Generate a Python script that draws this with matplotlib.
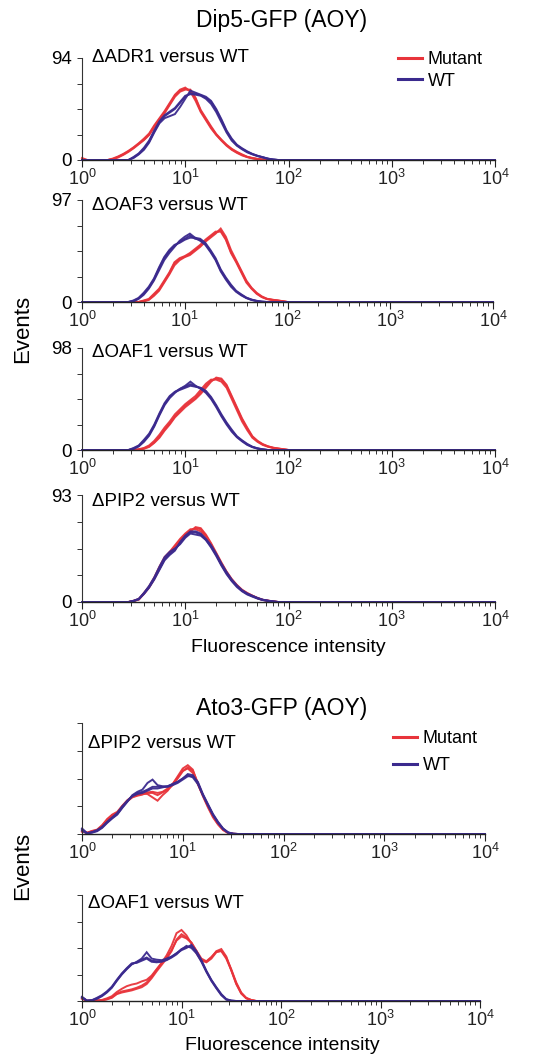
import numpy as np
import matplotlib
matplotlib.use("Agg")
import matplotlib.pyplot as plt
from matplotlib.lines import Line2D
from matplotlib.ticker import LogLocator, NullFormatter

plt.rcParams['font.family'] = ['Liberation Sans', 'DejaVu Sans']
plt.rcParams['mathtext.fontset'] = 'custom'
plt.rcParams['mathtext.rm'] = 'Liberation Sans'
plt.rcParams['mathtext.it'] = 'Liberation Sans:italic'
plt.rcParams['mathtext.bf'] = 'Liberation Sans:bold'

W, H = 539, 1058
MUT_COLOR = '#E8343B'
WT_COLOR = '#3B2A8E'

# ---------------- data: log10(fluorescence) bin centres ----------------
log_bins_dip5 = [0.00, 0.05, 0.10, 0.15, 0.20, 0.25, 0.30, 0.35, 0.40, 0.45,
                 0.50, 0.55, 0.60, 0.65, 0.70, 0.75, 0.80, 0.85, 0.90, 0.95,
                 1.00, 1.05, 1.10, 1.15, 1.20, 1.25, 1.30, 1.35, 1.40, 1.45,
                 1.50, 1.55, 1.60, 1.65, 1.70, 1.75, 1.80, 1.85, 1.90, 1.95, 2.00]
log_bins_ato3 = [0.00, 0.05, 0.10, 0.15, 0.20, 0.25, 0.30, 0.35, 0.40, 0.45,
                 0.50, 0.55, 0.60, 0.65, 0.70, 0.75, 0.80, 0.85, 0.90, 0.95,
                 1.00, 1.05, 1.10, 1.15, 1.20, 1.25, 1.30, 1.35, 1.40, 1.45,
                 1.50, 1.55, 1.60, 1.65, 1.70, 1.75]

# events, as % of each panel's axis maximum (three replicates each)
adr1_mut = [
    [2, 0, 0, 0, 0, 0, 1, 3, 5.5, 8.5, 12, 16, 20, 25, 33, 40, 47, 55, 63, 68, 70, 68, 60, 48, 40, 32, 25, 19.5, 14.5, 10.5, 7.5, 5, 3, 1.8, 1, 0.4, 0, 0, 0, 0, 0],
    [0, 0, 0, 0, 0, 0, 1.5, 3.5, 6, 9, 12.5, 16.5, 21, 26, 34, 41, 48, 56, 64, 69, 71, 67, 58, 47, 39, 31, 24.5, 19, 14, 10, 7, 4.5, 2.8, 1.6, 0.8, 0.3, 0, 0, 0, 0, 0],
    [1, 0, 0, 0, 0, 0, 0.8, 2.5, 5, 8, 11.5, 15.5, 19.5, 24.5, 32, 39, 46, 54, 62, 67, 69, 69, 61, 49, 41, 33, 25.5, 20, 15, 11, 8, 5.5, 3.2, 2, 1.1, 0.5, 0, 0, 0, 0, 0],
]
adr1_wt = [
    [0, 0, 0, 0, 0, 0, 0, 0, 0, 0, 2.5, 6, 11, 18, 28, 37, 43, 46.5, 50, 56, 62, 65.5, 65, 63.5, 61, 57, 49, 39, 28, 20, 14.5, 11, 8, 5.8, 4, 2.7, 1.3, 0.5, 0, 0, 0],
    [0, 0, 0, 0, 0, 0, 0, 0, 0, 0, 2, 5.5, 10, 17, 27, 36, 41, 43, 45, 52, 60, 68, 66, 64, 62, 58, 50, 40, 29, 21, 15, 11.5, 8.5, 6, 4.2, 2.8, 1.4, 0.5, 0, 0, 0],
    [0, 0, 0, 0, 0, 0, 0, 0, 0, 0, 3, 6.5, 12, 19, 29, 38, 44, 47.5, 51, 57, 63, 64.5, 64, 63, 60, 55, 47, 37, 27, 19, 14, 10.5, 7.5, 5.5, 3.8, 2.5, 1.2, 0.4, 0, 0, 0],
]
oaf3_mut = [
    [0, 0, 0, 0, 0, 0, 0, 0, 0, 0, 0, 0, 1, 2.5, 7, 12, 20, 28, 38, 42, 44.5, 47, 51, 55, 60, 64, 68, 70, 62, 49, 40, 30, 20, 13.5, 8.5, 5, 3, 2.2, 1.5, 0.8, 0],
    [0, 0, 0, 0, 0, 0, 0, 0, 0, 0, 0, 0, 0.5, 2, 6, 11, 19, 27, 36, 41, 44, 46, 50, 54, 59, 63, 67, 72, 64, 51, 41, 31, 21, 14, 9, 5.5, 3.2, 2.3, 1.6, 0.9, 0],
    [0, 0, 0, 0, 0, 0, 0, 0, 0, 0, 0, 0, 1.5, 3, 8, 13, 21, 29, 39, 43, 45, 48, 52, 56, 61, 65, 69, 69, 61, 48, 39, 29, 19, 13, 8, 4.8, 2.8, 2, 1.4, 0.7, 0],
]
oaf3_wt = [
    [0, 0, 0, 0, 0, 0, 0, 0, 0, 0, 1, 3.5, 8, 14, 22, 33, 43, 50, 55, 59, 62, 65, 62, 61, 57, 50, 42, 31, 23, 16, 10.5, 7, 4, 2.2, 1, 0.3, 0, 0, 0, 0, 0],
    [0, 0, 0, 0, 0, 0, 0, 0, 0, 0, 0.5, 3, 7, 13, 21, 31, 41, 48, 54, 60, 64, 67, 63, 60, 56, 49, 41, 30, 22, 15, 10, 6.5, 3.8, 2, 0.8, 0.2, 0, 0, 0, 0, 0],
    [0, 0, 0, 0, 0, 0, 0, 0, 0, 0, 1.5, 4, 9, 15, 23, 34, 44, 51, 56, 58, 61, 63, 63, 62, 58, 51, 43, 32, 24, 17, 11, 7.5, 4.3, 2.4, 1.2, 0.4, 0, 0, 0, 0, 0],
]
oaf1_dip5_mut = [
    [0, 0, 0, 0, 0, 0, 0, 0, 0, 0, 0, 0.5, 1.5, 3.5, 7.5, 13, 20, 26, 33, 38.5, 43.5, 47.5, 51, 57, 63, 68, 70, 69, 63, 52, 41, 30, 21, 13, 8.5, 5.5, 3.5, 2.2, 1.4, 0.7, 0],
    [0, 0, 0, 0, 0, 0, 0, 0, 0, 0, 0, 0.3, 1.2, 3, 7, 12, 19, 25, 32, 37, 42, 46, 50, 55, 61, 67, 71, 70, 64, 53, 42, 31, 22, 13.5, 9, 5.8, 3.7, 2.3, 1.5, 0.8, 0],
    [0, 0, 0, 0, 0, 0, 0, 0, 0, 0, 0, 0.8, 2, 4.5, 9, 15, 22, 28, 35, 40, 45, 49, 53, 59, 65, 69, 69, 67, 61, 50, 39, 28, 19.5, 12, 8, 5, 3.2, 2, 1.2, 0.6, 0],
]
oaf1_dip5_wt = [
    [0, 0, 0, 0, 0, 0, 0, 0, 0, 0, 1.5, 4, 9, 15, 24, 35, 45, 52, 57, 60, 62, 64.5, 62.5, 60.5, 57, 51, 43, 34, 26, 19, 13, 9, 5.5, 3, 1.5, 0.6, 0, 0, 0, 0, 0],
    [0, 0, 0, 0, 0, 0, 0, 0, 0, 0, 1, 3.5, 8, 14, 23, 34, 44, 51, 56, 60, 63, 67, 63, 60, 56, 50, 42, 33, 25, 18, 12.5, 8.5, 5, 2.8, 1.3, 0.5, 0, 0, 0, 0, 0],
    [0, 0, 0, 0, 0, 0, 0, 0, 0, 0, 2, 4.5, 10, 16, 25, 36, 46, 53, 57, 59, 61, 63, 62, 61, 58, 52, 44, 35, 27, 20, 13.5, 9.5, 6, 3.2, 1.7, 0.7, 0, 0, 0, 0, 0],
]
pip2_dip5_mut = [
    [0, 0, 0, 0, 0, 0, 0, 0, 0, 0, 1, 2.5, 8, 14, 22, 32, 41, 46, 52, 58, 63, 67, 69, 68, 62, 54, 45, 36, 28, 21, 15.5, 11, 8, 5.8, 3.6, 2, 1.2, 0.5, 0, 0, 0],
    [0, 0, 0, 0, 0, 0, 0, 0, 0, 0, 0.8, 2.2, 7.5, 13.5, 21.5, 31, 40, 46, 51, 57, 62, 66, 70, 69, 63, 55, 46, 37, 28.5, 21.5, 16, 11.5, 8.5, 6, 3.8, 2.1, 1.3, 0.6, 0, 0, 0],
    [0, 0, 0, 0, 0, 0, 0, 0, 0, 0, 1.2, 2.8, 8.5, 14.5, 23, 33, 42, 47, 53, 59, 64, 68, 68, 66, 61, 53, 44, 35, 27, 20.5, 15, 10.8, 7.8, 5.6, 3.5, 1.9, 1.1, 0.4, 0, 0, 0],
]
pip2_dip5_wt = [
    [0, 0, 0, 0, 0, 0, 0, 0, 0, 0, 1, 2.5, 8, 14, 22, 31, 40, 45, 49, 55, 61, 65, 65, 63, 58, 52, 44, 35, 27, 20, 15, 10.5, 7.5, 5.5, 3.5, 2, 1.2, 0.5, 0, 0, 0],
    [0, 0, 0, 0, 0, 0, 0, 0, 0, 0, 0.8, 2.8, 8.5, 15, 23, 33, 42, 47, 50, 54, 60, 64, 63, 62, 58, 51, 43, 34, 26, 19.5, 14, 10, 7, 5, 3.2, 1.8, 1, 0.4, 0, 0, 0],
    [0, 0, 0, 0, 0, 0, 0, 0, 0, 0, 1.2, 3, 7.5, 13.5, 21, 30, 39, 44, 48, 56, 62, 66, 66, 64, 59, 53, 45, 36, 28, 21, 15.5, 11, 8, 5.8, 3.8, 2.2, 1.3, 0.6, 0, 0, 0],
]
pip2_ato3_mut = [
    [3, 1, 2.5, 3.5, 7.5, 13, 17, 19, 25, 30, 33.5, 35, 36, 37, 37, 35, 37.5, 40, 44, 50, 56.5, 60, 57, 46, 35, 25, 16, 9, 4, 1, 0.2, 0, 0, 0, 0, 0],
    [2, 1.2, 2.8, 4, 8, 13.5, 17.5, 20, 25.5, 30.5, 34, 35.5, 36.5, 36, 33, 30, 35, 39, 45, 52, 59, 62, 58, 45, 34, 24, 15, 8.5, 3.5, 0.8, 0.1, 0, 0, 0, 0, 0],
    [2.5, 0.9, 2.2, 3.2, 7, 12.5, 16.5, 18.5, 24.5, 29.5, 33, 34.5, 35.5, 37.5, 38, 37, 38, 41, 45, 51, 57, 59, 55, 45, 35, 25, 16.5, 9.5, 4.2, 1.1, 0.2, 0, 0, 0, 0, 0],
]
pip2_ato3_wt = [
    [5, 0.8, 1.5, 3, 6, 10.5, 14.5, 18, 24, 29.5, 34.5, 37, 38, 40, 42.5, 42.5, 42.5, 42.5, 44, 46, 49, 52, 52, 47, 36, 27, 18, 11, 5, 1.5, 0.3, 0, 0, 0, 0, 0],
    [3, 0.5, 1.2, 2.5, 5.5, 10, 14, 17.5, 23.5, 29, 35, 38, 40, 46, 49, 44, 43, 43, 45, 47, 50, 54, 53, 46, 35, 26, 17, 10, 4.5, 1.2, 0.2, 0, 0, 0, 0, 0],
    [4, 0.6, 1.8, 3.5, 6.5, 11, 15, 19, 25, 30, 34, 36, 37, 39, 41, 41, 42, 43, 45, 47, 50, 53, 51, 45, 35, 26, 17.5, 10.5, 4.8, 1.3, 0.2, 0, 0, 0, 0, 0],
]
oaf1_ato3_mut = [
    [3, 0.2, 0.2, 0.3, 0.6, 1.5, 3, 6.5, 8, 9, 10, 11.5, 13, 16, 21.5, 28, 34, 40, 47, 58, 63, 60, 55, 47, 39, 36.5, 40, 46, 47.5, 41, 30, 17.5, 8, 3, 1, 0],
    [2, 0.2, 0.2, 0.5, 1, 2.5, 4.5, 8.5, 11.5, 14, 15.5, 16.5, 18.5, 20, 24, 30, 36, 43, 52, 64, 67, 62, 54, 45, 38, 37, 41, 47, 49, 42, 29, 16, 7, 2.5, 0.8, 0],
    [2.5, 0.1, 0.2, 0.3, 0.7, 1.8, 3.5, 7, 9, 10, 11, 12.5, 14.5, 17.5, 23, 29.5, 35.5, 41, 48, 57, 61, 59, 55, 47.5, 40, 37.5, 41.5, 46.5, 47, 40, 29, 16.5, 7.5, 2.8, 0.9, 0],
]
oaf1_ato3_wt = [
    [4, 0.3, 0.6, 2.5, 5, 8.5, 13, 19.5, 25.5, 30.5, 35, 36.5, 39, 41, 38, 37.5, 37.5, 39, 41.5, 45, 49, 51, 51.5, 46, 38, 28, 19.5, 12.5, 6, 1.5, 0.3, 0, 0, 0, 0, 0],
    [3, 0.2, 0.5, 2, 4.5, 8, 12.5, 19, 25, 30, 34.5, 37, 40, 46, 40, 39, 38.5, 40, 42, 45, 48, 50, 53, 47, 38.5, 28.5, 20, 13, 6.5, 1.8, 0.4, 0, 0, 0, 0, 0],
    [3.5, 0.4, 0.8, 3, 5.5, 9, 13.5, 20, 26, 31, 35.5, 36, 38, 40, 37, 36.5, 37, 38.5, 41, 44, 48.5, 52, 50, 45, 37, 27.5, 19, 12, 5.5, 1.3, 0.2, 0, 0, 0, 0, 0],
]

panel_labels = ['\u0394ADR1 versus WT', '\u0394OAF3 versus WT', '\u0394OAF1 versus WT',
                '\u0394PIP2 versus WT', '\u0394PIP2 versus WT', '\u0394OAF1 versus WT']
panel_ymax = [94, 97, 98, 93, None, None]
x_tick_values = [1, 10, 100, 1000, 10000]
x_tick_labels = [r'$\mathregular{10^{0}}$', r'$\mathregular{10^{1}}$', r'$\mathregular{10^{2}}$',
                 r'$\mathregular{10^{3}}$', r'$\mathregular{10^{4}}$']
titles = ['Dip5-GFP (AOY)', 'Ato3-GFP (AOY)']

# ---------------- layout (pixels) ----------------
panel_rects = [(82, 58, 495, 160), (82, 200, 493, 302), (82, 348, 495, 450),
               (82, 495, 495, 602), (82, 723, 485, 834), (82, 895, 480, 1001)]
label_pos = [(92, 58), (92, 205), (92, 352), (92, 502), (88, 743), (88, 903)]
bins_per_panel = [log_bins_dip5] * 4 + [log_bins_ato3] * 2
mut_data = [adr1_mut, oaf3_mut, oaf1_dip5_mut, pip2_dip5_mut, pip2_ato3_mut, oaf1_ato3_mut]
wt_data = [adr1_wt, oaf3_wt, oaf1_dip5_wt, pip2_dip5_wt, pip2_ato3_wt, oaf1_ato3_wt]

fig = plt.figure(figsize=(W / 100, H / 100), dpi=100)


def fx(x):
    return x / W


def fy(y):
    return 1 - y / H


axes = []
for i in range(6):
    l, t, r, b = panel_rects[i]
    ax = fig.add_axes([fx(l), fy(b), (r - l) / W, (b - t) / H])
    axes.append(ax)
    ymax = panel_ymax[i] if panel_ymax[i] is not None else 100
    scale = ymax / 100.0
    xb = 10 ** np.array(bins_per_panel[i])
    xs = np.concatenate([xb, [1e4]])
    for rep in mut_data[i]:
        ys = np.concatenate([np.array(rep) * scale, [0]])
        ax.plot(xs, ys, color=MUT_COLOR, lw=1.4, alpha=0.95, clip_on=False,
                solid_joinstyle='miter')
    for rep in wt_data[i]:
        ys = np.concatenate([np.array(rep) * scale, [0]])
        ax.plot(xs, ys, color=WT_COLOR, lw=1.4, alpha=0.95, clip_on=False,
                solid_joinstyle='miter')

    ax.set_xscale('log')
    ax.set_xlim(1, 1e4)
    ax.set_ylim(0, ymax)
    for s in ['top', 'right']:
        ax.spines[s].set_visible(False)
    ax.spines['left'].set_linewidth(0.8)
    ax.spines['left'].set_color('#333333')
    ax.spines['bottom'].set_linewidth(1.0)
    ax.spines['bottom'].set_color('#222222')

    ax.set_xticks(x_tick_values)
    ax.set_xticklabels(x_tick_labels)
    ax.xaxis.set_minor_locator(LogLocator(base=10, subs=np.arange(2, 10), numticks=20))
    ax.xaxis.set_minor_formatter(NullFormatter())
    ax.tick_params(axis='x', which='major', direction='out', length=5, width=0.8,
                   labelsize=13, pad=1.5, colors='#222222')
    ax.tick_params(axis='x', which='minor', direction='out', length=3, width=0.7,
                   colors='#333333')
    ax.set_yticks([0, ymax * 0.25, ymax * 0.5, ymax * 0.75, ymax])
    if panel_ymax[i] is not None:
        ax.set_yticklabels(['0', '', '', '', str(panel_ymax[i])])
    else:
        ax.set_yticklabels(['', '', '', '', ''])
    ax.tick_params(axis='y', direction='out', length=3.5, width=0.7, labelsize=13.5,
                   pad=4, colors='#333333', labelcolor='black')
    ax.patch.set_alpha(0)

    lx, ly = label_pos[i]
    fig.text(fx(lx), fy(ly), panel_labels[i], fontsize=13.5, ha='left', va='center')

# legends
handles = [Line2D([], [], color=MUT_COLOR, lw=2.2), Line2D([], [], color=WT_COLOR, lw=2.2)]
for (lx, ly, sp) in [(398, 51, 0.25), (393, 730, 0.55)]:
    fig.legend(handles, ['Mutant', 'WT'], loc='upper left',
               bbox_to_anchor=(fx(lx), fy(ly)), frameon=False, fontsize=13,
               handlelength=1.35, handletextpad=0.3, labelspacing=sp,
               borderpad=0, borderaxespad=0)

# titles
fig.text(fx(282), fy(20), titles[0], fontsize=16.5, ha='center', va='center')
fig.text(fx(282), fy(708), titles[1], fontsize=16.5, ha='center', va='center')

# axis labels
fig.text(fx(288), fy(648), 'Fluorescence intensity', fontsize=14, ha='center', va='center')
fig.text(fx(282), fy(1046), 'Fluorescence intensity', fontsize=14, ha='center', va='center')
fig.text(fx(23), fy(329), 'Events', fontsize=16, rotation=90, ha='center', va='center')
fig.text(fx(23), fy(866), 'Events', fontsize=16, rotation=90, ha='center', va='center')

fig.savefig('out.png', dpi=100)
